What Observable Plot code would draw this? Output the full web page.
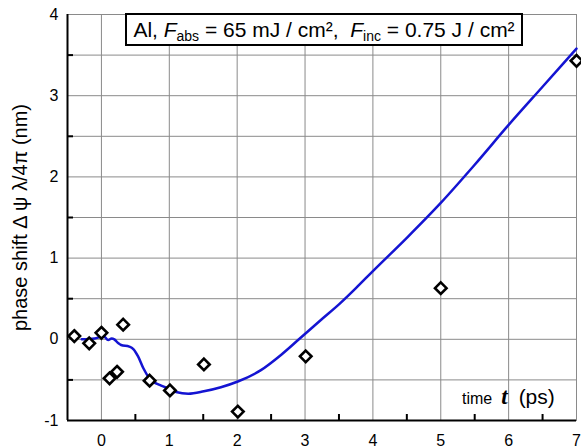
<!DOCTYPE html>
<html><head><meta charset="utf-8">
<script src="https://cdn.jsdelivr.net/npm/d3@7"></script>
<script src="https://cdn.jsdelivr.net/npm/@observablehq/plot@0.6"></script>
<style>
body{margin:0;background:#fff;font-family:"Liberation Sans",Arial,sans-serif}
#wrap{position:relative;width:581px;height:448px;overflow:hidden}
#wrap svg g[aria-label="x-axis tick label"] text,
#wrap svg g[aria-label="y-axis tick label"] text{font-size:16px}
#wrap svg g[aria-label="y-axis label"] text{font-size:20px}
.box{position:absolute;left:125px;top:13px;width:394px;height:29px;border:2px solid #000;background:#fff;font-size:21px;line-height:29px;text-align:center;white-space:nowrap;color:#000}
.box sub{font-size:14px;vertical-align:-4px;line-height:0}
.tl{position:absolute;left:462px;top:384px;font-size:16px;white-space:nowrap;color:#000}
.tl b{font-family:"Liberation Serif","DejaVu Serif",serif;font-style:italic;font-size:23px;margin:0 11px 0 9px}
.tl span{font-size:21px}
</style></head>
<body><div id="wrap"></div>
<script>
const xDomain = [-0.5, 7];
const yDomain = [-1, 4];
const xTicks = [0, 1, 2, 3, 4, 5, 6, 7];
const yTicks = [-1, 0, 1, 2, 3, 4];
const yGrid = [-0.5, 0, 0.5, 1, 1.5, 2, 2.5, 3, 3.5];
const xMinor = [0.5, 1.5, 2.5, 3.5, 4.5, 5.5, 6.5];
const yMinor = [-0.5, 0.5, 1.5, 2.5, 3.5];

// measured points (diamonds)
const times = [-0.4, -0.18, 0, 0.12, 0.23, 0.32, 0.71, 1.01, 1.51, 2.01, 3.01, 5, 7];
const shifts = [0.04, -0.05, 0.08, -0.48, -0.40, 0.18, -0.51, -0.63, -0.31, -0.89, -0.21, 0.63, 3.43];

// simulated curve
const curveT = [-0.29, -0.10, 0.03, 0.10, 0.15, 0.19, 0.25, 0.29, 0.41, 0.47, 0.54, 0.62, 0.69, 0.76, 0.88, 1.03, 1.10, 1.28, 1.51, 1.76, 2.01, 2.35, 2.65, 2.91, 3.25, 3.5, 3.75, 4.0, 4.5, 5.0, 5.5, 6.0, 6.5, 7.0];
const curveY = [0.0, 0.01, 0.04, -0.01, 0.01, 0.0, -0.05, -0.07, -0.09, -0.12, -0.21, -0.36, -0.46, -0.52, -0.57, -0.62, -0.65, -0.67, -0.64, -0.59, -0.52, -0.38, -0.19, 0.0, 0.25, 0.43, 0.63, 0.84, 1.25, 1.68, 2.15, 2.64, 3.11, 3.58];

const points = times.map((t, i) => ({t, v: shifts[i]}));
const curve = curveT.map((t, i) => ({t, v: curveY[i]}));

const W = 581, H = 448, mL = 67, mR = 5, mT = 14, mB = 28;
const tickLen = 6;

const chart = Plot.plot({
  width: W,
  height: H,
  marginLeft: mL,
  marginRight: mR,
  marginTop: mT,
  marginBottom: mB,
  style: {fontFamily: '"Liberation Sans", Arial, sans-serif', color: "#000", background: "#fff"},
  x: {domain: xDomain},
  y: {domain: yDomain},
  marks: [
    Plot.gridX(xTicks, {stroke: "#8a8a8a", strokeOpacity: 1, strokeWidth: 1}),
    Plot.gridY(yGrid, {stroke: "#8a8a8a", strokeOpacity: 1, strokeWidth: 1}),
    Plot.frame({stroke: "#8a8a8a", strokeWidth: 1}),
    Plot.ruleX(xMinor, {stroke: "#000", strokeWidth: 2, insetTop: H - mT - mB - tickLen}),
    Plot.ruleY(yMinor, {stroke: "#000", strokeWidth: 2, insetRight: W - mL - mR - tickLen}),
    Plot.axisX(xTicks, {tickSize: 0, tickPadding: 14, tickFormat: d => String(d), label: null}),
    Plot.axisY(yTicks, {tickSize: 0, tickPadding: 9, tickFormat: d => String(d), label: "phase shift Δ ψ λ/4π (nm)", labelAnchor: "center", labelArrow: "none", labelOffset: 55}),
    Plot.ruleY([yDomain[0]], {stroke: "#000", strokeWidth: 2}),
    Plot.ruleX([xDomain[0]], {stroke: "#000", strokeWidth: 2}),
    Plot.line(curve, {x: "t", y: "v", stroke: "#1414d2", strokeWidth: 2.5, curve: "monotone-x"}),
    Plot.dot(points, {x: "t", y: "v", symbol: "diamond2", r: 5.2, fill: "#fff", stroke: "#000", strokeWidth: 2.6})
  ]
});
const wrap = document.getElementById("wrap");
wrap.appendChild(chart);
const box = document.createElement("div");
box.className = "box";
box.innerHTML = 'Al, <i>F</i><sub>abs</sub> = 65 mJ / cm², &nbsp;<i>F</i><sub>inc</sub> = 0.75 J / cm²';
wrap.appendChild(box);
const tl = document.createElement("div");
tl.className = "tl";
tl.innerHTML = 'time<b>t</b><span>(ps)</span>';
wrap.appendChild(tl);
</script>
</body></html>
